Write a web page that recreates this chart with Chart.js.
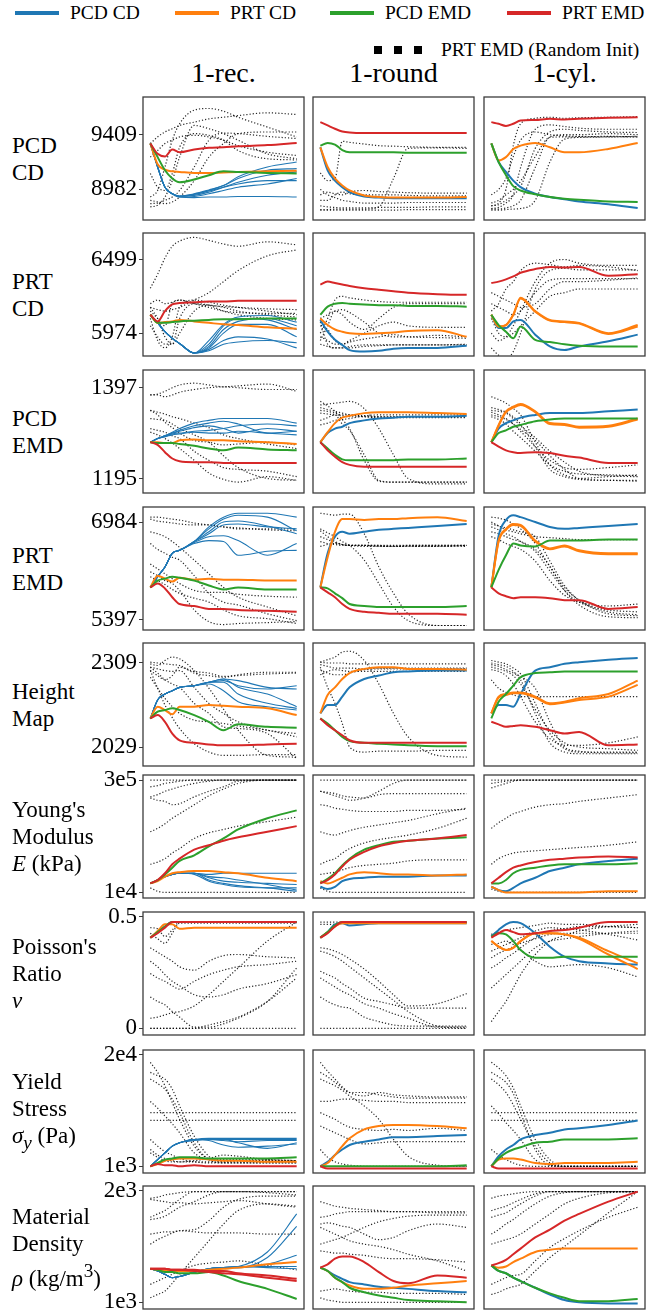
<!DOCTYPE html>
<html lang="en">
<head>
<meta charset="UTF-8" />
<title>Parameter estimation traces</title>
<script src="https://cdn.jsdelivr.net/npm/chart.js@4.4.0/dist/chart.umd.min.js"></script>
<style>
  body { margin: 0; background: #fff; width: 662px; height: 1314px; position: relative; overflow: hidden;
         font-family: 'Liberation Serif', 'DejaVu Serif', 'Times New Roman', Times, serif; color: #000; }
  .leg { position: absolute; font-size: 19.5px; line-height: 22px; display: flex; align-items: center; white-space: nowrap; }
  .sw { display: inline-block; width: 44px; height: 4px; margin-right: 11px; }
  .sq { display: inline-block; width: 8px; height: 8px; background: #000; margin-right: 12px; }
  .coltitle { position: absolute; top: 57px; width: 161px; text-align: center; font-size: 28px; line-height: 32px; }
  .rowlabel { position: absolute; left: 12px; font-size: 23px; line-height: 27px; display: flex; align-items: center; }
  canvas { position: absolute; }
</style>
</head>
<body>
<div class="leg" style="left:15px;top:2px"><span class="sw" style="background:#1f77b4"></span>PCD CD</div>
<div class="leg" style="left:175px;top:2px"><span class="sw" style="background:#ff7f0e"></span>PRT CD</div>
<div class="leg" style="left:330px;top:2px"><span class="sw" style="background:#2ca02c"></span>PCD EMD</div>
<div class="leg" style="left:507px;top:2px"><span class="sw" style="background:#d62728"></span>PRT EMD</div>
<div class="leg" style="left:374px;top:39px"><span class="sq"></span><span class="sq"></span><span class="sq"></span><span style="margin-left:7px">PRT EMD (Random Init)</span></div>
<div id="figure"></div>
<script>
// iteration steps shared by every trace (x axis is not labelled)
const steps = [0, 0.5, 1, 1.5, 2, 3, 4, 5, 6, 8, 10];
const colTitles = ['1-rec.', '1-round', '1-cyl.'];
const rowLabels = ['PCD<br>CD', 'PRT<br>CD', 'PCD<br>EMD', 'PRT<br>EMD', 'Height<br>Map',
  "Young's<br>Modulus<br><i>E</i> (kPa)", "Poisson's<br>Ratio<br><i>ν</i>",
  'Yield<br>Stress<br><i>σ<sub>y</sub></i> (Pa)', 'Material<br>Density<br><i>ρ</i> (kg/m<sup>3</sup>)'];
// values are in % of the span between the two labelled ticks (0 = lower tick, 100 = upper tick)
const tickLabels = [['8982', '9409'], ['5974', '6499'], ['1195', '1397'], ['5397', '6984'], ['2029', '2309'],
  ['1e4', '3e5'], ['0', '0.5'], ['1e3', '2e4'], ['1e3', '2e3']];
const yRanges = [[-56, 169], [-31, 136], [-16, 119.5], [-10.6, 115.4], [-22.6, 123.8],
  [-5, 104.5], [-6, 104], [-6, 104], [-6, 104]];

const rowPcdCd = [
  { red: [[84,65,60,73,68,73,76,77,79,81,85]],
    green: [[84,59,35,20,13,18,26,33,32,30,29]],
    orange: [[84,46,36,33,32,30,30,31,32,33,34]],
    blue: [[84,41,4,-8,-14,-15,-14,-14,-13,-13,-14],[84,41,4,-8,-14,-13,-8,-2,4,10,20],
      [84,41,4,-8,-13,-11,-5,4,13,26,32],[84,41,4,-8,-13,-9,-2,7,20,35,38],
      [84,41,4,-8,-12,-8,-1,7,23,41,50],[84,41,4,-8,-12,-9,-3,4,10,16,16]],
    dotted: [[-14,-2,41,90,120,145,148,143,132,114,96],[84,96,105,111,117,123,129,132,135,140,137],
      [-32,-29,-14,16,59,117,111,102,90,65,56],[-26,-25,-20,-14,-2,41,90,103,102,97,93],
      [29,4,-2,29,77,102,99,90,71,56,54],[59,71,84,90,96,99,96,90,80,68,62],
      [-20,-23,-26,-23,-14,16,59,84,102,105,105]] },
  { red: [[123,117,111,106,104,103,103,103,103,103,103]],
    green: [[80,85,82,72,68,68,68,68,67,67,67]],
    orange: [[77,41,20,7,-2,-11,-14,-15,-15,-15,-14]],
    blue: [[77,35,16,4,-5,-13,-15,-16,-16,-16,-16]],
    dotted: [[30,16,20,88,86,83,80,79,78,77,77],[-38,-37,-36,-36,-36,-36,-32,20,75,76,75],
      [-20,-20,-10,-5,-8,-10,-10,-10,-11,-12,-12],[0,-10,-15,-20,-22,-25,-25,-25,-24,-24,-24],
      [-30,-32,-33,-34,-34,-34,-33,-33,-33,-32,-32],[-37,-38,-38,-38,-38,-38,-38,-38,-37,-37,-37],
      [-10,-5,-8,-10,-5,-2,-4,-5,-6,-7,-7]] },
  { red: [[123,120,116,120,126,127,129,128,129,131,132]],
    green: [[84,50,26,6,-2,-9,-14,-17,-19,-22,-23]],
    orange: [[84,53,59,74,80,85,77,68,68,74,85]],
    blue: [[84,50,32,16,4,-8,-14,-18,-22,-27,-34]],
    dotted: [[-30,-25,0,80,120,130,132,130,131,132,133],[-35,-33,-25,-10,40,110,118,115,112,110,110],
      [-36,-36,-34,-30,-20,40,96,100,100,102,100],[-25,-20,-10,0,15,60,95,96,96,97,96],
      [-38,-38,-37,-36,-35,-20,50,92,95,96,97],[-10,0,20,60,90,105,100,98,97,96,96],
      [-30,-28,-20,-10,5,75,105,110,108,105,104]] }
];

const rowPrtCd = [
  { red: [[25,16,30,39,41,42,43,43,44,44,44]],
    green: [[25,14,14,15,16,17,18,19,19,20,20]],
    orange: [[25,14,15,16,18,16,14,12,11,8,6]],
    blue: [[25,14,2,-7,-14,-27,-15,10,20,18,5],[25,14,2,-7,-14,-27,-20,0,12,12,-5],
      [25,14,2,-7,-14,-27,-22,-10,-5,-8,-20],[25,14,2,-7,-14,-27,-18,5,16,20,10],
      [25,14,2,-7,-14,-27,-24,-15,-12,-10,-13],[25,14,2,-7,-14,-27,-10,12,22,24,15]],
    dotted: [[61,80,102,118,125,130,126,121,118,124,120],[35,32,30,32,35,45,55,70,85,105,113],
      [30,20,10,40,45,40,38,36,35,33,32],[20,-10,-20,-5,35,45,42,38,35,30,25],
      [35,20,-5,-15,20,40,38,30,25,20,18],[10,-5,-15,-15,0,30,38,35,30,25,22],
      [40,45,40,42,45,40,35,30,28,27,27]] },
  { red: [[66,70,68,66,64,61,59,57,55,53,52]],
    green: [[25,36,40,41,40,39,38,38,37,37,36]],
    orange: [[20,11,5,2,0,-1,0,1,3,4,-5]],
    blue: [[18,2,-9,-16,-23,-25,-24,-21,-20,-20,-17]],
    dotted: [[0,20,45,50,48,45,43,42,42,42,42],[-10,10,30,25,15,5,20,35,40,40,40],
      [10,5,-10,-15,-10,0,10,15,10,8,8],[-5,-10,-15,-15,-12,-8,-5,-2,-5,-6,-7],
      [15,-15,-20,-20,-18,-16,-16,-16,-16,-16,-16],[-15,-18,-20,-20,-20,-18,-17,-16,-16,-16,-15],
      [20,25,30,32,28,15,0,-5,-5,-3,-5]] },
  { red: [[68,70,73,77,82,87,90,89,90,78,80]],
    green: [[25,11,2,-7,9,-9,-12,-15,-17,-18,-18]],
    orange: [[25,9,11,25,48,30,18,16,14,0,11],[25,9,11,25,47,29,17,15,13,-1,9]],
    blue: [[25,7,7,16,18,-2,-18,-23,-18,-11,-2]],
    dotted: [[30,40,60,70,85,95,93,90,92,90,85],[0,-10,-5,10,30,70,95,100,95,92,92],
      [-20,-30,-35,-25,0,60,85,88,86,86,86],[55,50,45,40,35,40,60,70,70,72,75],
      [40,35,30,25,30,55,72,74,74,74,74],[20,0,-5,0,10,30,50,55,60,60,60]] }
];

const rowPcdEmd = [
  { red: [[40,37,29,22,19,18,18,17,17,17,17]],
    green: [[40,39,39,39,38,36,33,31,34,32,31]],
    orange: [[40,40,39,39,42,43,42,42,41,40,38]],
    blue: [[40,44,47,51,55,61,64,66,66,66,61],[40,44,47,50,53,58,61,63,60,50,52],
      [40,44,47,50,52,56,58,55,50,55,52],[40,44,46,49,50,52,53,55,58,60,58],
      [40,44,46,48,49,51,50,50,52,50,48]],
    dotted: [[92,93,96,100,103,105,103,101,102,104,96],[92,92,90,92,95,98,100,101,100,98,98],
      [75,73,71,68,66,61,56,48,44,38,33],[66,65,64,60,55,48,40,25,12,0,-2],
      [55,53,51,47,44,30,20,12,10,8,2],[51,48,44,39,33,20,6,-1,-4,2,-2],
      [75,70,62,56,50,42,40,37,38,40,37]] },
  { red: [[40,31,24,18,15,13,13,13,13,13,13]],
    green: [[40,33,26,21,20,20,20,20,21,21,22]],
    orange: [[40,51,61,67,69,72,73,73,73,72,71]],
    blue: [[40,50,55,57,61,64,66,67,68,68,69]],
    dotted: [[81,82,83,84,85,77,55,26,0,-6,-6],[75,74,72,70,70,68,67,67,67,67,67],
      [72,71,70,69,68,68,68,68,68,68,68],[64,67,70,60,53,26,-2,-4,-4,-4,-4],
      [59,61,64,65,66,69,70,70,70,70,70],[85,80,74,65,55,20,-3,-4,-4,-4,-4],
      [78,76,74,72,70,69,68,68,68,68,68]] },
  { red: [[40,35,31,29,28,29,28,25,23,17,17]],
    green: [[40,50,53,57,59,63,65,66,66,66,66]],
    orange: [[40,59,74,79,82,74,61,60,57,58,66],[40,58,73,78,81,73,60,59,56,57,65]],
    blue: [[40,55,61,64,67,70,72,72,72,74,76]],
    dotted: [[90,87,83,77,70,40,15,4,0,2,4],[78,76,73,68,60,35,10,2,-1,-2,-2],
      [75,74,72,66,58,45,30,18,8,3,2],[70,68,65,60,54,42,25,10,0,-2,-3],
      [73,70,66,60,52,35,20,12,10,12,15],[68,65,60,52,45,30,15,8,5,4,3]] }
];

const rowPrtEmd = [
  { red: [[33,37,32,23,16,14,11,11,10,9,8]],
    green: [[33,40,42,44,43,40,35,31,33,31,31]],
    orange: [[33,45,42,39,43,41,42,41,41,40,40]],
    blue: [[33,44,54,68,71,80,95,105,109,109,105],[33,44,54,68,71,80,93,103,107,105,91],
      [33,44,54,68,71,80,90,100,101,96,88],[33,44,54,68,71,80,88,97,98,95,93],
      [33,44,54,68,71,78,81,80,66,70,71],[33,44,54,68,71,79,85,86,81,66,78]],
    dotted: [[105,105,104,103,102,99,97,95,94,92,91],[103,101,100,99,98,97,97,95,93,93,93],
      [90,88,85,80,74,61,47,33,23,13,4],[78,72,68,64,61,45,27,18,15,6,-1],
      [57,52,47,42,37,30,28,28,26,24,23],[49,45,40,37,30,10,-2,-5,-4,-3,-2],
      [44,40,36,31,27,22,18,10,4,1,-4]] },
  { red: [[33,28,23,16,11,8,7,6,6,6,5]],
    green: [[33,32,27,22,16,14,13,13,13,13,14]],
    orange: [[33,64,90,103,103,102,103,103,104,105,101]],
    blue: [[33,68,85,90,88,90,92,93,94,96,98]],
    dotted: [[109,108,107,108,108,88,54,27,6,-6,-6],[93,89,85,80,76,61,37,13,-1,-6,-6],
      [91,85,80,77,76,76,76,76,76,76,76],[85,82,79,77,76,75,75,75,75,75,76],
      [80,78,77,76,76,76,75,75,76,76,76],[75,77,78,77,76,76,76,75,75,75,75]] },
  { red: [[33,27,24,22,23,23,22,20,20,11,13]],
    green: [[33,51,66,78,76,75,81,81,81,82,82]],
    orange: [[33,81,93,98,97,81,73,76,71,68,68],[33,80,92,97,96,80,72,75,70,67,67]],
    blue: [[33,86,102,107,105,100,95,93,94,96,98]],
    dotted: [[105,104,102,98,93,78,54,33,20,6,4],[98,96,94,92,90,85,60,35,20,8,5],
      [95,92,88,85,80,70,50,30,18,10,8],[90,88,85,82,80,72,55,30,15,3,2],
      [85,82,78,75,72,60,40,25,18,14,16],[100,96,92,90,88,85,84,83,82,82,82]] }
];

const rowHeight = [
  { red: [[34,38,30,16,8,5,3,2,2,3,4]],
    green: [[34,42,44,46,44,38,30,20,27,24,23]],
    orange: [[34,48,44,39,48,48,50,49,48,46,38]],
    blue: [[34,56,63,67,71,73,77,79,73,69,73],[34,56,63,67,71,73,77,81,71,63,48],
      [34,56,63,67,71,73,77,77,63,52,46],[34,56,63,67,71,73,77,81,79,71,69],
      [34,56,63,67,71,73,75,67,54,48,44]],
    dotted: [[101,100,99,98,97,88,85,83,86,89,89],[99,97,103,107,105,91,70,45,20,-10,-12],
      [95,93,91,90,91,71,52,40,30,20,16],[83,70,58,48,40,32,30,28,25,20,12],
      [91,70,50,35,22,4,-6,-10,-10,-9,-9],[95,88,80,75,71,52,40,24,22,16,-14],
      [91,85,80,85,95,90,88,84,85,87,88]] },
  { red: [[34,26,20,14,8,5,5,5,5,5,5]],
    green: [[34,28,20,12,7,5,4,3,2,1,1]],
    orange: [[40,62,71,81,88,93,95,95,93,93,92]],
    blue: [[40,50,50,60,71,81,85,89,90,91,91]],
    dotted: [[101,104,107,113,114,103,75,40,12,-10,-12],[101,100,100,100,99,99,99,99,99,99,99],
      [98,96,94,94,94,93,93,93,93,93,93],[95,71,52,28,0,-6,-5,-5,-5,-4,-4],
      [92,88,86,86,88,92,94,94,94,94,94],[86,90,92,91,90,90,90,90,90,90,90]] },
  { red: [[30,27,24,25,26,24,20,16,18,2,3]],
    green: [[34,54,63,73,83,88,89,90,90,90,90]],
    orange: [[40,60,63,65,65,60,52,54,58,63,79],[40,59,62,64,64,59,51,53,56,60,74]],
    blue: [[40,50,50,48,63,91,95,99,101,104,106]],
    dotted: [[103,101,99,94,87,52,16,-2,-6,-6,-6],[100,98,96,90,80,40,5,-6,-8,-8,-8],
      [95,93,90,85,75,45,20,5,0,-2,-4],[80,70,65,62,60,60,60,60,60,60,60],
      [92,90,85,75,60,30,10,2,2,5,12],[98,96,92,88,84,70,30,0,-5,-7,-7]] }
];

const rowYoung = [
  { red: [[8,11,17,25,30,38,42,46,49,54,59]],
    green: [[8,11,16,22,28,33,41,48,56,66,73]],
    orange: [[8,10,14,17,18,19,19,18,17,13,10]],
    blue: [[8,11,14,16,17,17,16,17,17,17,17],[8,11,14,16,17,17,11,8,6,4,1],
      [8,11,14,16,17,16,10,7,5,4,4],[8,11,14,16,17,17,13,10,9,8,7],
      [8,11,14,16,17,17,14,13,11,7,2]],
    dotted: [[100,100,100,100,100,100,100,100,100,100,100],[94,95,97,98,99,100,100,100,100,100,100],
      [85,87,90,92,94,97,99,100,100,100,100],[84,82,81,78,79,85,90,94,99,100,100],
      [54,57,61,66,70,78,86,92,97,100,100],[25,27,30,35,39,48,53,56,59,63,67],
      [4,1,0,0,0,0,0,0,0,0,0]] },
  { red: [[8,11,16,23,29,36,41,44,46,48,51]],
    green: [[8,12,17,24,30,38,42,45,46,48,49]],
    orange: [[10,8,10,13,16,18,17,16,16,15,16]],
    blue: [[5,3,5,10,12,13,14,14,14,15,15]],
    dotted: [[100,100,100,100,100,100,100,100,100,100,100],[90,89,88,86,85,84,87,88,88,88,88],
      [90,88,86,84,82,84,90,97,100,100,100],[78,77,75,74,73,72,72,72,73,73,74],
      [54,52,51,53,55,58,60,62,64,70,75],[25,28,30,35,39,44,47,49,51,57,66],
      [16,17,18,20,22,24,25,26,28,29,29],[4,1,0,0,0,0,0,0,0,0,0]] },
  { red: [[8,13,18,22,24,27,29,30,31,32,31]],
    green: [[8,8,11,17,20,22,24,25,25,25,26]],
    orange: [[5,2,0,0,0,0,0,0,0,1,1]],
    blue: [[5,2,1,4,8,13,19,22,25,28,30]],
    dotted: [[100,100,100,100,100,100,100,100,100,100,100],[97,98,99,100,100,100,100,100,100,100,100],
      [93,95,97,99,100,100,100,100,100,100,100],[57,62,66,70,72,76,78,79,81,84,87],
      [25,30,33,35,36,37,38,39,40,42,45],[3,1,0,0,0,0,0,0,0,0,0]] }
];

const rowPoisson = [
  { red: [[81,85,90,95,95,95,95,95,95,95,95]],
    green: [[81,86,91,95,95,95,95,95,95,95,95]],
    orange: [[81,87,93,93,89,90,90,90,90,90,90]],
    blue: [[81,86,91,95,95,95,95,95,95,95,95]],
    dotted: [[90,89,82,88,95,95,95,95,95,95,95],[85,80,76,85,94,94,94,94,94,94,94],
      [72,68,64,60,55,52,60,65,66,64,63],[49,45,42,38,35,42,48,52,55,57,60],
      [28,24,21,15,10,1,1,4,9,24,54],[0,0,0,0,0,0,3,6,10,24,45],
      [0,0,0,0,0,0,0,0,0,0,0],[60,55,48,42,38,30,28,30,35,40,48],
      [9,10,12,14,15,20,30,42,54,78,95]] },
  { red: [[81,85,91,95,95,95,95,95,95,95,95]],
    green: [[81,86,92,95,95,95,95,95,95,95,95]],
    orange: [[81,86,91,94,94,94,94,94,94,94,94]],
    blue: [[81,86,93,94,92,93,94,94,94,94,94]],
    dotted: [[95,95,95,95,95,95,95,95,95,95,95],[93,93,93,94,94,94,94,94,94,94,94],
      [72,71,69,66,62,53,42,30,20,22,31],[69,67,64,60,55,45,35,25,15,2,0],
      [51,48,45,40,36,27,24,21,18,18,18],[28,24,21,19,18,10,6,3,2,2,2],
      [0,0,0,0,0,0,0,0,0,0,0],[45,41,37,33,30,22,18,13,9,1,1]] },
  { red: [[81,85,88,86,84,85,87,88,90,95,95]],
    green: [[82,85,84,78,70,63,63,64,64,64,64]],
    orange: [[78,73,70,72,78,85,85,84,81,69,58],[78,73,70,72,78,85,85,84,80,66,53]],
    blue: [[82,88,93,95,94,85,73,64,60,58,57]],
    dotted: [[6,15,24,36,48,66,78,83,87,91,93],[36,42,48,54,60,72,78,80,82,85,87],
      [54,58,63,67,72,81,87,89,91,91,90],[69,72,75,78,81,87,90,89,88,84,79],
      [75,76,78,75,70,60,55,56,57,54,46],[84,86,88,89,90,92,94,93,93,91,90],
      [63,67,70,73,76,80,84,85,85,85,85]] }
];

const rowYield = [
  { red: [[0,2,1,1,0,1,0,0,0,0,0]],
    green: [[0,3,6,7,8,8,7,7,7,7,8]],
    orange: [[0,2,5,6,7,7,6,5,5,4,4]],
    blue: [[0,6,12,18,21,24,25,25,25,25,25],[0,6,12,18,21,24,24,23,22,23,23],
      [0,6,12,18,21,24,23,19,17,18,20],[0,6,12,18,21,24,24,24,21,16,21],
      [0,6,12,18,21,23,24,24,24,24,24]],
    dotted: [[93,84,72,57,42,18,6,3,3,3,3],[84,81,78,69,54,27,9,4,5,5,5],
      [78,74,69,60,48,21,7,6,6,6,5],[58,52,45,38,30,12,6,5,5,5,5],
      [48,48,48,48,48,48,48,48,48,48,48],[41,41,41,41,41,41,41,41,41,41,41],
      [24,18,13,10,7,4,3,3,3,3,3],[15,10,7,5,4,4,4,4,4,4,4],
      [12,8,5,4,4,5,7,10,9,6,5]] },
  { red: [[0,-2,-2,-2,-2,-2,-2,-2,-2,-2,-2]],
    green: [[0,0,0,0,0,0,0,0,0,0,1]],
    orange: [[0,3,10,18,25,33,36,37,37,36,34]],
    blue: [[0,4,10,15,19,22,24,26,26,27,28]],
    dotted: [[93,85,78,71,66,63,66,64,63,62,62],[84,80,75,70,66,66,64,62,61,61,61],
      [58,58,59,60,60,59,58,58,57,57,57],[78,75,72,68,63,54,42,24,9,1,0],
      [48,45,42,38,35,33,32,33,32,34,32],[36,33,30,27,24,20,21,22,22,22,22],
      [15,8,4,2,1,0,0,0,0,0,0]] },
  { red: [[0,-2,-2,-2,-2,-2,-2,-2,-2,-2,-2]],
    green: [[0,7,12,15,17,21,22,24,24,24,25]],
    orange: [[0,6,7,7,6,3,2,3,3,3,4]],
    blue: [[0,9,15,19,24,28,30,33,34,37,41]],
    dotted: [[93,88,81,70,54,24,6,0,0,0,0],[84,80,75,65,48,15,1,0,0,0,0],
      [78,73,66,55,42,18,3,0,0,0,0],[54,47,39,32,24,6,1,0,0,0,0],
      [48,48,48,48,48,48,48,48,48,48,48],[41,41,41,41,41,41,41,41,41,41,41],
      [15,10,6,3,1,0,0,0,0,0,0]] }
];

const rowDensity = [
  { red: [[30,30,30,29,29,29,28,28,26,24,21],[30,30,30,29,29,28,27,26,25,22,19]],
    green: [[30,29,27,27,26,26,27,24,19,12,3]],
    orange: [[30,29,28,28,28,28,29,30,31,34,36]],
    blue: [[30,28,25,22,23,27,30,31,32,31,30],[30,28,25,22,23,27,30,31,32,45,79],
      [30,28,25,22,23,27,30,31,31,40,68],[30,28,25,22,23,27,30,31,31,34,42],
      [30,28,25,22,23,27,30,31,32,32,32]],
    dotted: [[93,94,96,97,98,99,99,99,99,99,99],[76,79,82,87,92,99,99,99,99,99,99],
      [74,75,77,81,85,90,96,99,99,98,96],[52,56,59,62,64,65,73,85,92,95,95],
      [61,62,63,63,64,63,62,62,62,61,61],[4,7,10,17,25,40,55,70,82,88,86],
      [16,19,22,25,28,33,35,36,37,33,29],[92,91,90,89,89,88,89,90,91,88,85]] },
  { red: [[31,34,39,41,41,36,27,19,17,24,22]],
    green: [[31,28,22,18,13,9,6,4,2,1,0]],
    orange: [[31,28,22,18,15,12,12,13,15,17,19]],
    blue: [[31,28,24,21,18,16,14,13,12,10,9]],
    dotted: [[90,88,86,85,84,83,82,81,81,81,81],[76,77,79,80,81,81,81,81,81,80,80],
      [70,71,70,68,67,61,56,58,64,70,67],[67,64,61,58,55,52,50,47,43,37,28],
      [52,54,56,58,61,67,72,75,77,78,78],[46,45,44,44,43,42,40,39,39,38,36],
      [10,11,12,11,10,9,9,8,8,8,7],[4,2,1,0,0,0,0,0,0,0,0]] },
  { red: [[33,35,38,43,48,58,65,73,79,90,99]],
    green: [[33,28,26,22,19,13,8,4,1,1,3]],
    orange: [[33,31,32,36,39,45,47,48,48,48,48]],
    blue: [[33,28,26,22,19,13,7,2,0,-1,-1]],
    dotted: [[93,95,96,97,98,99,99,99,99,99,99],[82,84,86,89,92,97,99,99,99,99,99],
      [76,78,80,84,88,95,99,99,99,99,99],[52,54,56,58,61,70,79,88,93,98,99],
      [16,19,22,24,25,37,49,57,64,76,85],[7,9,12,14,16,28,40,50,60,80,99],
      [61,65,70,74,79,88,95,98,99,99,99]] }
];

const rows = [rowPcdCd, rowPrtCd, rowPcdEmd, rowPrtEmd, rowHeight, rowYoung, rowPoisson, rowYield, rowDensity];

// layout of the 9x3 grid of panels
const colLeft = [143, 313, 484];
const panelW = 161;
const rowTop = [97, 233, 370, 507, 643, 775, 912, 1050, 1186];
const panelH = 123;
const axisW = 60;
const pad = 20;
const serif = "'Liberation Serif', 'DejaVu Serif', 'Times New Roman', Times, serif";
const colors = { red: '#d62728', green: '#2ca02c', orange: '#ff7f0e', blue: '#1f77b4' };

const framePlugin = {
  id: 'frame',
  afterDraw(chart) {
    const a = chart.chartArea, ctx = chart.ctx;
    ctx.save();
    ctx.strokeStyle = '#3c3c3c';
    ctx.lineWidth = 1.3;
    ctx.strokeRect(a.left, a.top, a.right - a.left, a.bottom - a.top);
    ctx.restore();
  }
};

function trace(vals, color, width, dash) {
  return {
    data: vals.map((v, i) => ({ x: steps[i], y: v })),
    borderColor: color,
    borderWidth: width,
    borderDash: dash || [],
    pointRadius: 0,
    fill: false,
    cubicInterpolationMode: 'monotone'
  };
}

const fig = document.getElementById('figure');

colTitles.forEach((t, c) => {
  const d = document.createElement('div');
  d.className = 'coltitle';
  d.style.left = colLeft[c] + 'px';
  d.textContent = t;
  fig.appendChild(d);
});

rows.forEach((row, r) => {
  const lab = document.createElement('div');
  lab.className = 'rowlabel';
  lab.style.top = rowTop[r] + 'px';
  lab.style.height = panelH + 'px';
  lab.innerHTML = '<div>' + rowLabels[r] + '</div>';
  fig.appendChild(lab);

  row.forEach((p, c) => {
    const first = c === 0;
    const cv = document.createElement('canvas');
    const leftExtra = first ? axisW : pad;
    cv.width = panelW + leftExtra + pad;
    cv.height = panelH + 2 * pad;
    cv.style.left = (colLeft[c] - leftExtra) + 'px';
    cv.style.top = (rowTop[r] - pad) + 'px';
    fig.appendChild(cv);

    const thinBlue = first && p.blue.length > 1;
    const sets = [];
    p.red.forEach(v => sets.push(trace(v, colors.red, 2)));
    p.green.forEach(v => sets.push(trace(v, colors.green, 2)));
    p.orange.forEach(v => sets.push(trace(v, colors.orange, 2)));
    p.blue.forEach(v => sets.push(trace(v, colors.blue, thinBlue ? 1.1 : 2)));
    p.dotted.forEach(v => sets.push(trace(v, 'rgba(0,0,0,0.85)', 1.2, [1.2, 2])));

    const yAxis = {
      min: yRanges[r][0],
      max: yRanges[r][1],
      display: first
    };
    if (first) {
      Object.assign(yAxis, {
        afterBuildTicks: s => { s.ticks = [{ value: 0 }, { value: 100 }]; },
        afterFit: s => { s.width = axisW; },
        ticks: {
          autoSkip: false,
          padding: 2,
          color: '#000',
          font: { family: serif, size: 23 },
          callback: (v, i) => tickLabels[r][i]
        },
        grid: { drawOnChartArea: false, drawTicks: true, tickLength: 4, color: '#3c3c3c' },
        border: { display: false }
      });
    }

    new Chart(cv, {
      type: 'line',
      data: { datasets: sets },
      plugins: [framePlugin],
      options: {
        responsive: false,
        animation: false,
        devicePixelRatio: 1,
        layout: { padding: { left: first ? 0 : pad, right: pad, top: pad, bottom: pad } },
        plugins: { legend: { display: false }, tooltip: { enabled: false } },
        scales: {
          x: { type: 'linear', min: -0.5, max: 10.5, display: false },
          y: yAxis
        }
      }
    });
  });
});
</script>
</body>
</html>
